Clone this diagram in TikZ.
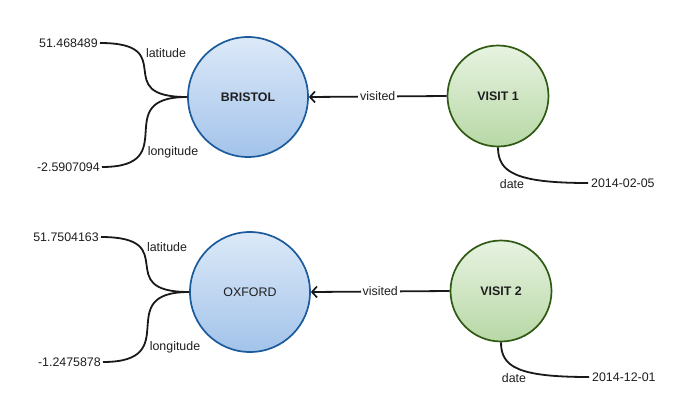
\documentclass[tikz,border=0pt]{standalone}
\usepackage{fontspec}
\setmainfont{Liberation Sans}
\usetikzlibrary{arrows.meta}
\definecolor{bluestroke}{HTML}{1B5A9B}
\definecolor{bluetop}{HTML}{DCE9F8}
\definecolor{bluebot}{HTML}{A3C3EA}
\definecolor{greenstroke}{HTML}{2F5A14}
\definecolor{greentop}{HTML}{E7F3E1}
\definecolor{greenbot}{HTML}{B8D8A6}
\definecolor{txt}{HTML}{1E1E1E}
\tikzset{
  place/.style={circle, draw=bluestroke, line width=1.7pt, top color=bluetop, bottom color=bluebot, minimum size=120pt, inner sep=0pt, text=txt, font=\fontsize{12.4}{14}\selectfont},
  visit/.style={circle, draw=greenstroke, line width=1.7pt, top color=greentop, bottom color=greenbot, minimum size=101pt, inner sep=0pt, text=txt, font=\fontsize{12.4}{14}\selectfont\bfseries},
  val/.style={inner sep=2pt, text=txt, font=\fontsize{12.4}{14}\selectfont},
  lbl/.style={inner sep=1pt, text=txt, font=\fontsize{12.4}{14}\selectfont},
  conn/.style={line width=1.8pt, black!90},
  rel/.style={line width=1.8pt, black!90, -{Straight Barb[length=5pt,width=11pt,line width=1.7pt]}},
}
\begin{document}
\begin{tikzpicture}[x=1pt,y=-1pt]
\useasboundingbox (0,0) rectangle (689,405);
% top row
\node[place, font=\fontsize{12.4}{14}\selectfont\bfseries] (bristol) at (248,97) {BRISTOL};
\node[visit] (visit1) at (498,96) {VISIT 1};
\node[val, anchor=east] (lat1) at (100,43) {51.468489};
\node[val, anchor=east] (lon1) at (102,167) {-2.5907094};
\node[val, anchor=west, inner sep=3pt] (date1) at (588,183) {2014-02-05};
\draw[conn] (lat1.east) .. controls (182,43) and (108,97) .. (bristol.west);
\draw[conn] (lon1.east) .. controls (184,167) and (108,97) .. (bristol.west);
\node[lbl] (latl1) at (166,53) {latitude};
\node[lbl] (lonl1) at (173,152) {longitude};
\draw[rel] (visit1.west) -- (bristol.east) node[midway, fill=white, lbl, inner xsep=2pt] (vis1) {visited};
\draw[conn] (visit1.south) .. controls (498,172) and (515,183) .. (date1.west);
\node[lbl] (datel1) at (512,184) {date};
% bottom row
\node[place] (oxford) at (250,292) {OXFORD};
\node[visit] (visit2) at (501,291) {VISIT 2};
\node[val, anchor=east] (lat2) at (101,237) {51.7504163};
\node[val, anchor=east] (lon2) at (103,362) {-1.2475878};
\node[val, anchor=west, inner sep=3pt] (date2) at (589,377) {2014-12-01};
\draw[conn] (lat2.east) .. controls (184,237) and (110,292) .. (oxford.west);
\draw[conn] (lon2.east) .. controls (186,362) and (110,292) .. (oxford.west);
\node[lbl] (latl2) at (167,247) {latitude};
\node[lbl] (lonl2) at (175,347) {longitude};
\draw[rel] (visit2.west) -- (oxford.east) node[midway, fill=white, lbl, inner xsep=2pt] (vis2) {visited};
\draw[conn] (visit2.south) .. controls (501,367) and (518,377) .. (date2.west);
\node[lbl] (datel2) at (514,378) {date};
\end{tikzpicture}
\end{document}
